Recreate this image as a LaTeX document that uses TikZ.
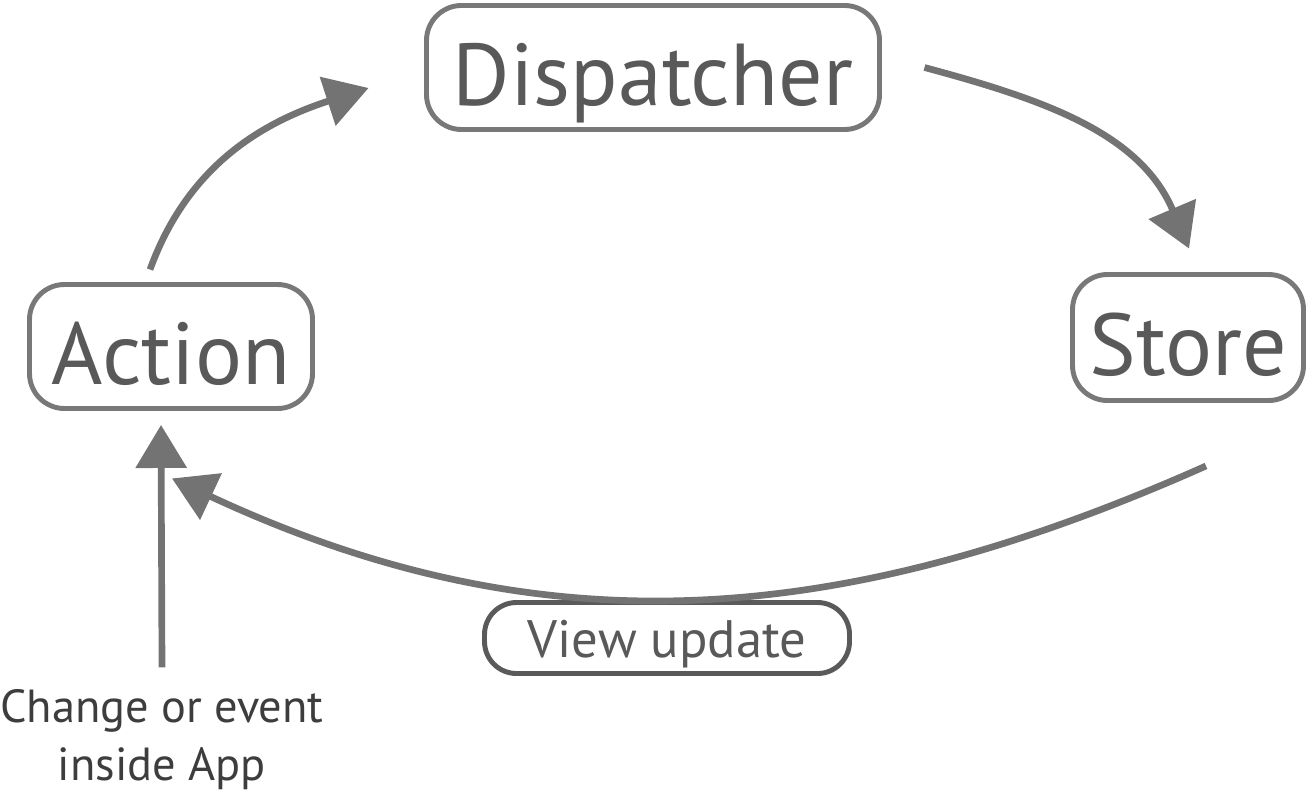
\documentclass[tikz,border=0pt]{standalone}
\usepackage{fontspec}
\setmainfont{PT Sans}
\usepackage{xcolor}
\usepackage{tikz}
\usetikzlibrary{calc,arrows.meta}
\definecolor{frame}{HTML}{787878}
\definecolor{framedark}{HTML}{5A5A5A}
\definecolor{ink}{HTML}{595959}
\definecolor{inkdark}{HTML}{3D3D3D}
\definecolor{flow}{HTML}{737373}
\tikzset{
  box/.style={draw=frame, line width=1.4pt, rounded corners=0.35cm, text=ink, inner sep=0pt,
    font=\fontsize{25}{30}\selectfont, text height=0.76cm, text depth=0cm, minimum height=1.24cm},
  tag/.style={draw=framedark, line width=1.4pt, rounded corners=0.32cm, text=ink, inner sep=0pt,
    font=\fontsize{15}{18}\selectfont, text height=0.38cm, text depth=0cm, minimum height=0.71cm},
  note/.style={text=inkdark, font=\fontsize{13.2}{16.5}\selectfont, align=center, inner sep=0pt},
  link/.style={draw=flow, line width=1.9pt, -{Triangle[length=4.3mm,width=5mm]}},
}
\begin{document}
\begin{tikzpicture}
  \useasboundingbox (0,0) rectangle (13.09,-7.97);
  % the four boxes
  \node[box, minimum width=4.53cm] (dispatcher) at (6.53,-0.675) {Dispatcher};
  \node[box, minimum width=2.83cm] (action) at (1.71,-3.465) {Action};
  \node[box, minimum width=2.31cm, minimum height=1.26cm] (store) at (11.88,-3.375) {Store};
  \node[tag, minimum width=3.65cm] (view) at (6.67,-6.38) {View update};
  \node[note, anchor=base] (event) at (1.62,-7.80) {Change or event\\inside App};
  % the cycle
  \draw[link] ($(action.north)+(-0.21,0.125)$) to[out=70,in=198] ($(dispatcher.west)+(-0.555,-0.205)$);
  \draw[link] ($(dispatcher.east)+(0.425,0)$) to[out=-15,in=113] ($(store.north)+(0.01,0.235)$);
  \draw[link] ($(store.south)+(0.18,-0.63)$) to[out=204,in=-25] ($(action.south)+(0.01,-0.675)$);
  \draw[link] ($(event.north)+(0,0.21)$) -- ($(action.south)+(-0.10,-0.14)$);
\end{tikzpicture}
\end{document}
